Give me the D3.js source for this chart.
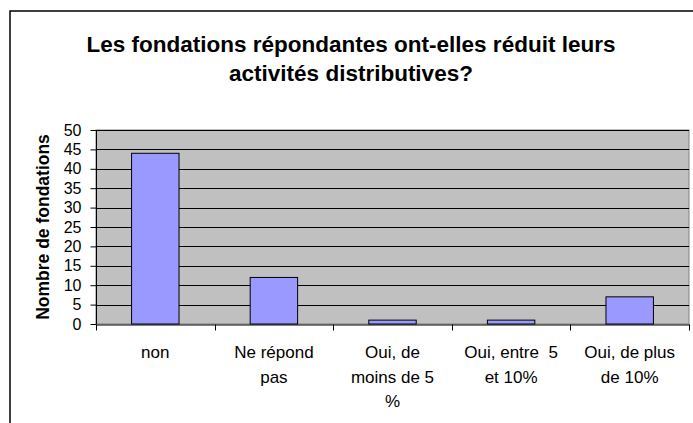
<!DOCTYPE html>
<html><head><meta charset="utf-8">
<script src="https://cdn.jsdelivr.net/npm/d3@7"></script>
<style>body{margin:0;background:#fff}svg{display:block}</style>
</head><body>
<script>
const categories = ["non", "Ne répond pas", "Oui, de moins de 5 %", "Oui, entre  5 et 10%", "Oui, de plus de 10%"];
const categoryLines = [["non"], ["Ne répond", "pas"], ["Oui, de", "moins de 5", "%"], ["Oui, entre\u00A0\u00A05", "et 10%"], ["Oui, de plus", "de 10%"]];
const values = [44, 12, 1, 1, 7];
const yTicks = [0, 5, 10, 15, 20, 25, 30, 35, 40, 45, 50];
const titleLines = ["Les fondations répondantes ont-elles réduit leurs", "activités distributives?"];
const yTitle = "Nombre de fondations";

const W = 693, H = 423;
const svg = d3.select("body").append("svg").attr("width", W).attr("height", H);
const font = "Arial, 'Liberation Sans', sans-serif";

svg.append("rect").attr("x", 10).attr("y", 11).attr("width", W + 10).attr("height", H + 10)
  .attr("fill", "#fff").attr("stroke", "#000").attr("stroke-width", 1.5);

const m = {left: 96, right: 689, top: 130, bottom: 324};
const x = d3.scaleBand().domain(categories).range([m.left, m.right]).paddingInner(0.6).paddingOuter(0.3);
const xb = d3.scaleBand().domain(categories).range([m.left, m.right]);
const y = d3.scaleLinear().domain([0, 50]).range([m.bottom, m.top]);

svg.append("rect").attr("x", m.left).attr("y", m.top).attr("width", m.right - m.left).attr("height", m.bottom - m.top)
  .attr("fill", "#C0C0C0").attr("stroke", "#808080");

svg.append("g").selectAll("line").data(yTicks.filter(d => d > 0)).join("line")
  .attr("x1", m.left).attr("x2", m.right).attr("y1", d => Math.round(y(d)) + 0.5).attr("y2", d => Math.round(y(d)) + 0.5)
  .attr("stroke", "#000").attr("stroke-width", 1);

svg.append("g").selectAll("rect").data(values).join("rect")
  .attr("x", (d, i) => x(categories[i])).attr("width", x.bandwidth())
  .attr("y", d => y(d)).attr("height", d => y(0) - y(d))
  .attr("fill", "#9999FF").attr("stroke", "#000").attr("stroke-width", 1);

const yAxis = d3.axisLeft(y).tickValues(yTicks).tickSize(6).tickPadding(9);
const gy = svg.append("g").attr("transform", `translate(${m.left + 0.5},0)`).call(yAxis);
gy.selectAll("text").attr("font-family", font).attr("font-size", 16).attr("fill", "#000");
gy.selectAll("line,path").attr("stroke", "#000");
gy.select(".domain").attr("d", `M0,${m.top}V${m.bottom}`);

const xAxis = d3.axisBottom(xb).tickValues([]).tickSizeOuter(0);
const gx = svg.append("g").attr("transform", `translate(0,${m.bottom + 0.5})`).call(xAxis);
gx.select(".domain").attr("stroke", "#000");
const tickPos = categories.map(c => xb(c)).concat([m.right]);
gx.selectAll("line.t").data(tickPos).join("line").attr("class", "t")
  .attr("x1", d => Math.round(d) + 0.5).attr("x2", d => Math.round(d) + 0.5).attr("y1", 0).attr("y2", 6).attr("stroke", "#000");

const labels = svg.append("g");
categoryLines.forEach((lines, i) => {
  const cx = xb(categories[i]) + xb.bandwidth() / 2;
  lines.forEach((t, j) => {
    labels.append("text").attr("x", cx).attr("y", 358 + j * 24.5).attr("text-anchor", "middle")
      .attr("font-family", font).attr("font-size", 17).attr("fill", "#000").text(t);
  });
});

svg.append("text").attr("transform", `translate(49,${(m.top + m.bottom) / 2}) rotate(-90)`)
  .attr("text-anchor", "middle").attr("font-family", font).attr("font-size", 17.5).attr("font-weight", "bold").text(yTitle);

titleLines.forEach((t, j) => {
  svg.append("text").attr("x", 351).attr("y", 52 + j * 29).attr("text-anchor", "middle")
    .attr("font-family", font).attr("font-size", 22.5).attr("font-weight", "bold").text(t);
});
</script>
</body></html>
